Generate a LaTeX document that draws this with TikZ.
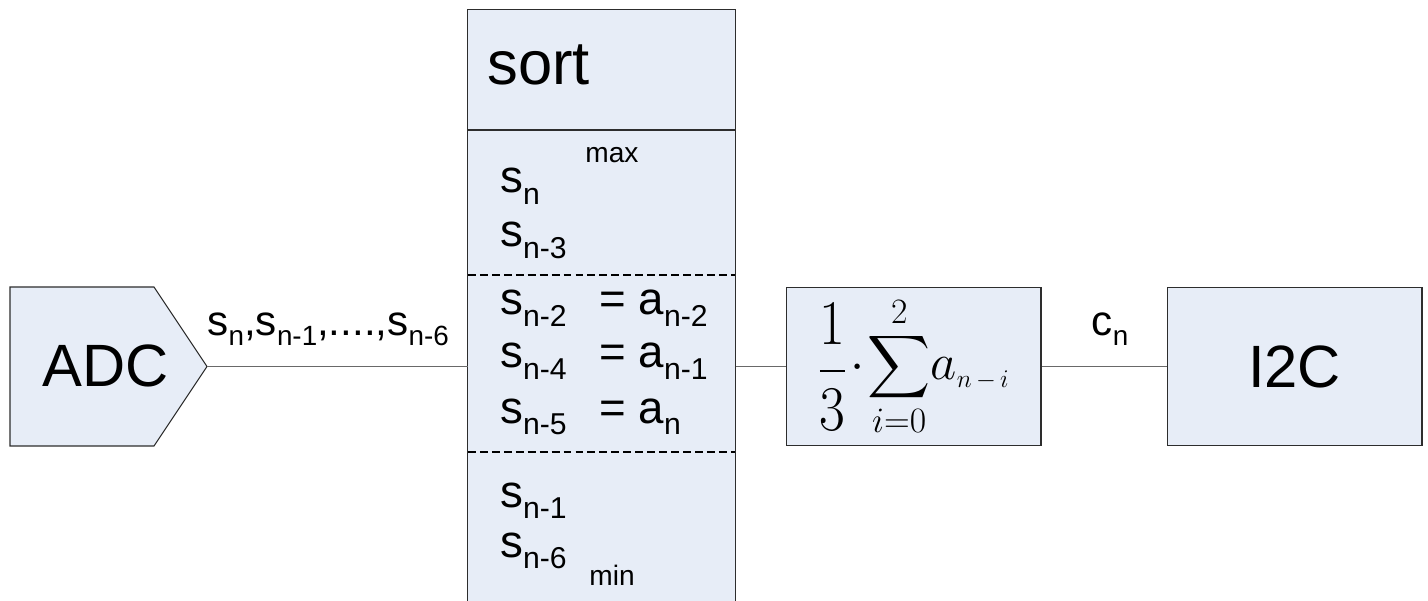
\RequirePackage{fix-cm}
\documentclass[tikz,border=0pt]{standalone}
\usepackage{exscale}
\usepackage{fontspec}
\setmainfont{Liberation Sans}
\usepackage{graphicx}
\usetikzlibrary{positioning,calc}
\definecolor{ink}{RGB}{45,45,45}
\definecolor{soft}{RGB}{231,237,247}
\definecolor{wire}{RGB}{105,105,105}
\newcommand{\lowsub}[1]{\raisebox{-0.26em}{\scalebox{0.66}{#1}}}
\tikzset{
  box/.style={draw=ink,fill=soft,line width=0.6pt,inner sep=0pt},
  link/.style={draw=wire,line width=0.6pt},
  cut/.style={draw=black,line width=0.8pt,dash pattern=on 4.5pt off 2.3pt},
  big/.style={font=\fontsize{34}{40}\selectfont,inner sep=0pt},
  entry/.style={font=\fontsize{26}{30}\selectfont,anchor=base west,inner sep=0pt},
  tag/.style={font=\fontsize{16}{19}\selectfont,anchor=base,inner sep=0pt},
  lbl/.style={font=\fontsize{24}{28}\selectfont,anchor=base,inner sep=0pt},
}

\begin{document}
\begin{tikzpicture}[x=0.02cm,y=-0.02cm]
  \useasboundingbox (0,0) rectangle (1428,601);

  % A/D converter
  \draw[box] (10,287) -- (154,287) -- (207,366.5) -- (154,446) -- (10,446) -- cycle;
  \coordinate (adctip) at (207,366.5);
  \node[big] (adc) at (106,366) {ADC};

  % sorting stage, open at the bottom
  \node[box,draw=none,minimum width=5.34cm,minimum height=11.82cm] (sortbox) at (601.5,305.5) {};
  \draw[ink,line width=0.6pt] (sortbox.south west) |- (sortbox.north east) -- (sortbox.south east);
  \draw[ink,line width=0.6pt] (468,130) -- (735,130);
  \draw[cut] (468,275) -- (735,275);
  \draw[cut] (468,452) -- (735,452);
  \node[big,font=\fontsize{35}{40}\selectfont,anchor=base west] (sorttitle) at (487,85) {sort};
  \node[tag] (maxtag) at (612,163) {max};
  \node[entry] (s0) at (500,193) {s\lowsub{n}};
  \node[entry] (s3) at (500,247) {s\lowsub{n-3}};
  \node[entry] (s2) at (500,315) {s\lowsub{n-2}};
  \node[entry] (s4) at (500,368) {s\lowsub{n-4}};
  \node[entry] (s5) at (500,423) {s\lowsub{n-5}};
  \node[entry] (s1) at (500,507) {s\lowsub{n-1}};
  \node[entry] (s6) at (500,557) {s\lowsub{n-6}};
  \node[entry] (a2) at (599,315) {= a\lowsub{n-2}};
  \node[entry] (a1) at (599,368) {= a\lowsub{n-1}};
  \node[entry] (a0) at (599,423) {= a\lowsub{n}};
  \node[tag] (mintag) at (612,585) {min};

  % averaging
  \node[box,minimum width=5.1cm,minimum height=3.17cm,font=\fontsize{29}{35}\selectfont] (sumbox) at (913.5,366.5)
    {$\displaystyle \vcenter{\hbox{\scalebox{1.1}[1.25]{$\displaystyle\frac{1}{3}$}}}\!\cdot\!\sum_{i=0}^{2}\!a_{\scriptscriptstyle n\,-\,i}$};

  % bus interface
  \node[box,big,minimum width=5.1cm,minimum height=3.17cm] (i2c) at (1294.5,366.5) {I2C};

  \draw[link] (adctip) -- node[lbl,midway,xshift=-0.18cm,yshift=0.63cm]
    {s\lowsub{n},s\lowsub{n-1},....,s\lowsub{n-6}} (adctip -| sortbox.west);
  \draw[link] (sortbox.east |- sumbox.west) -- (sumbox.west);
  \draw[link] (sumbox.east) -- node[lbl,midway,xshift=0.12cm,yshift=0.63cm] {c\lowsub{n}} (i2c.west);
\end{tikzpicture}
\end{document}
